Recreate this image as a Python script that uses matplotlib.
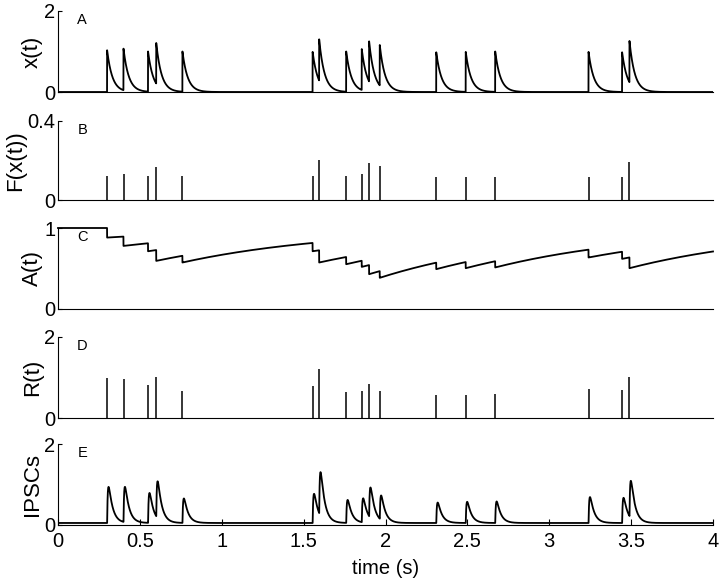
import numpy as np
import matplotlib.pyplot as plt

plt.rcParams['font.family'] = ['Liberation Sans', 'DejaVu Sans']

# spike times (s)
spike_t = [0.30, 0.40, 0.55, 0.60, 0.76, 1.555, 1.595, 1.76, 1.855, 1.90, 1.965,
           2.31, 2.49, 2.67, 3.24, 3.445, 3.49]
# x(t) peak right after each spike
x_peak = [1.03, 1.07, 1.00, 1.21, 1.00, 0.99, 1.30, 1.00, 1.06, 1.25, 1.16,
          0.98, 0.99, 1.00, 0.99, 0.98, 1.26]
# F(x(t)) at each spike
F_val = [0.121, 0.131, 0.121, 0.168, 0.121, 0.120, 0.202, 0.120, 0.131, 0.187, 0.170,
         0.118, 0.118, 0.118, 0.118, 0.118, 0.193]
# A(t) just after each spike
A_after = [0.882, 0.779, 0.713, 0.594, 0.574, 0.713, 0.574, 0.553, 0.520, 0.430, 0.385,
           0.492, 0.504, 0.513, 0.636, 0.619, 0.504]
# R(t) at each spike
R_val = [0.99, 0.97, 0.82, 1.01, 0.67, 0.80, 1.20, 0.63, 0.66, 0.84, 0.67,
         0.56, 0.58, 0.59, 0.71, 0.69, 1.02]

tau_x = 0.032     # decay of x(t)
tau_rec = 0.95    # recovery of A(t)
tau_r, tau_d = 0.004, 0.025   # IPSC rise / decay
ipsc_gain = 0.9
ipsc_base = 0.05

st = np.array(spike_t)
t = np.linspace(0, 4, 8001)
idx = np.searchsorted(st, t, side='right') - 1
dt = t - st[np.clip(idx, 0, None)]

x_t = np.where(idx >= 0, np.array(x_peak)[np.clip(idx, 0, None)] * np.exp(-dt / tau_x), 0.0)
A_t = np.where(idx >= 0, 1 - (1 - np.array(A_after)[np.clip(idx, 0, None)]) * np.exp(-dt / tau_rec), 1.0)

# IPSC = R weighted double exponential kernel
def kernel(s):
    sp = np.clip(s, 0, None)
    return np.where(s >= 0, np.exp(-sp / tau_d) - np.exp(-sp / tau_r), 0.0)

s_grid = np.linspace(0, 0.2, 4001)
k_peak = kernel(s_grid).max()
ipsc = np.full_like(t, ipsc_base)
for ti, ri in zip(spike_t, R_val):
    ipsc += ipsc_gain * ri * kernel(t - ti) / k_peak

fig = plt.figure(figsize=(7.2, 5.79), dpi=100)
W, H = 720, 579
left, right = 58, 713
panels = [(11, 92), (121, 200), (228, 309), (337, 418), (444, 525)]
axes = []
for top, bot in panels:
    ax = fig.add_axes([left / W, 1 - bot / H, (right - left) / W, (bot - top) / H])
    axes.append(ax)

ylabels = ['x(t)', 'F(x(t))', 'A(t)', 'R(t)', 'IPSCs']
ytops = [2, 0.4, 1, 2, 2]
letters = ['A', 'B', 'C', 'D', 'E']

axA, axB, axC, axD, axE = axes
axA.plot(t, x_t, color='black', lw=1.3)
axB.vlines(spike_t, 0, F_val, color='black', lw=1.1)
axC.plot(t, A_t, color='black', lw=1.3, clip_on=False)
axD.vlines(spike_t, 0, R_val, color='black', lw=1.1)
axE.plot(t, ipsc, color='black', lw=1.3)

for ax, lab, ytop, let in zip(axes, ylabels, ytops, letters):
    ax.set_xlim(0, 4)
    ax.set_ylim(0, ytop)
    ax.spines['top'].set_visible(False)
    ax.spines['right'].set_visible(False)
    ax.set_yticks([0, ytop])
    ax.set_yticklabels(['0', '0.4' if ytop == 0.4 else str(int(ytop))])
    ax.tick_params(axis='y', direction='in', length=3, labelsize=14.5, pad=2)
    ax.set_ylabel(lab, fontsize=16, labelpad=1)
    ax.text(0.037, 0.89, let, transform=ax.transAxes, fontsize=10.5,
            ha='center', va='center')
    if ax is not axE:
        ax.set_xticks([])

axE.set_xticks(np.arange(0, 4.01, 0.5))
axE.set_xticklabels(['0', '0.5', '1', '1.5', '2', '2.5', '3', '3.5', '4'])
axE.tick_params(axis='x', direction='in', length=4, labelsize=14.5, pad=5)
axE.set_xlabel('time (s)', fontsize=14.5, labelpad=6)

fig.savefig('out.png', dpi=100)
